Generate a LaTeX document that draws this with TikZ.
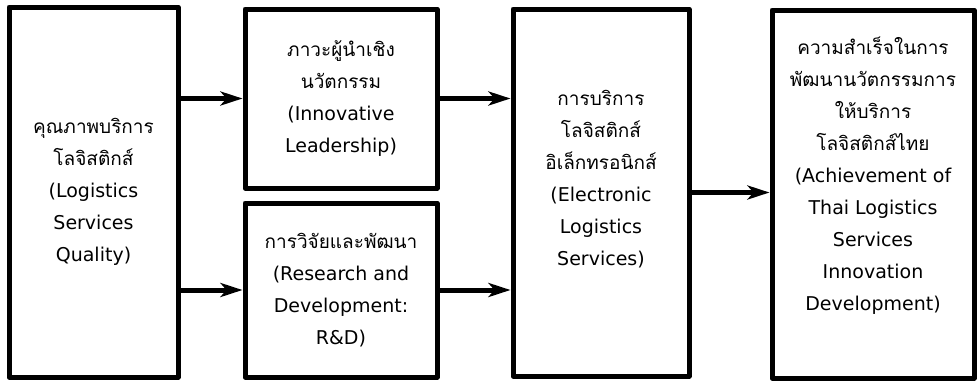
\documentclass[tikz,border=0pt]{standalone}
\usepackage{fontspec}
\setmainfont{DejaVu Sans}
\newfontfamily\thai[Script=Thai]{Loma}
\usetikzlibrary{arrows.meta}
\tikzset{kotak/.style={draw,line width=5pt,line join=round,align=center,inner sep=0pt,
  font=\fontsize{19}{32}\selectfont}}
\begin{document}
\begin{tikzpicture}[x=1pt,y=-1pt,>={Stealth[length=22pt,width=14pt,inset=6pt]},line width=5pt]
\useasboundingbox (0,0) rectangle (978,381);
% boxes
\node[kotak,minimum width=169pt,minimum height=370pt] (quality) at (93.5,192)
  {{\thai คุณภาพบริการ}\\{\thai โลจิสติกส์}\\(Logistics\\Services\\Quality)};
\node[kotak,minimum width=192pt,minimum height=179pt] (leader) at (341,98.5)
  {{\thai ภาวะผู้นำเชิง}\\{\thai นวัตกรรม}\\(Innovative\\Leadership)};
\node[kotak,minimum width=192pt,minimum height=174pt] (rnd) at (341,290)
  {{\thai การวิจัยและพัฒนา}\\(Research and\\Development:\\R\&D)};
\node[kotak,minimum width=176pt,minimum height=367pt,text depth=29pt] (elog) at (601,192.5)
  {{\thai การบริการ}\\{\thai โลจิสติกส์}\\{\thai อิเล็กทรอนิกส์}\\(Electronic\\Logistics\\Services)};
\node[kotak,minimum width=202pt,minimum height=368pt,text depth=41pt] (success) at (873,194)
  {{\thai ความสำเร็จในการ}\\{\thai พัฒนานวัตกรรมการ}\\{\thai ให้บริการ}\\{\thai โลจิสติกส์ไทย}\\(Achievement of\\Thai Logistics\\Services\\Innovation\\Development)};
% arrows
\draw[->] (quality.east |- leader) -- (leader);
\draw[->] (quality.east |- rnd) -- (rnd);
\draw[->] (leader) -- (elog.west |- leader);
\draw[->] (rnd) -- (elog.west |- rnd);
\draw[->] (elog) -- (success.west |- elog);
\end{tikzpicture}
\end{document}
